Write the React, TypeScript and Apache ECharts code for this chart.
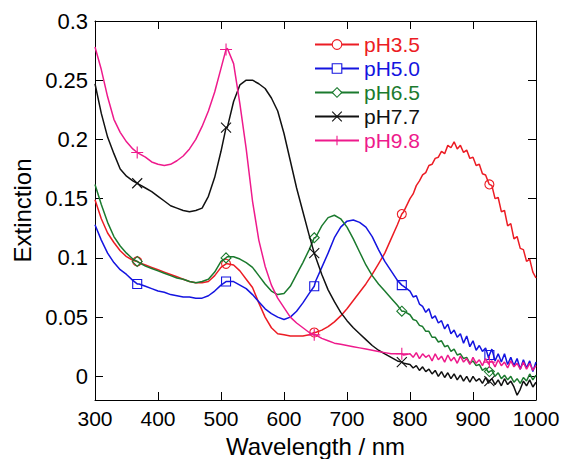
import React, { useEffect, useRef } from "react";
import * as echarts from "echarts";

// wavelength grids (nm)
const lambdaCoarse: number[] = [];
for (let l = 300; l <= 790; l += 10) lambdaCoarse.push(l);
const lambdaFine: number[] = [];
for (let l = 800; l <= 1000; l += 5) lambdaFine.push(l);
const wavelengths = [...lambdaCoarse, ...lambdaFine];

const seriesNames = ["pH3.5", "pH5.0", "pH6.5", "pH7.7", "pH9.8"];
const seriesColors = ["#ec1c24", "#1414e0", "#1b7a2e", "#111111", "#ee1a8c"];

const pH35 = [
  0.149, 0.133, 0.121, 0.113, 0.106, 0.101, 0.098, 0.096, 0.094, 0.092,
  0.090, 0.088, 0.086, 0.084, 0.082, 0.080, 0.079, 0.079, 0.080, 0.085,
  0.092, 0.095, 0.094, 0.089, 0.082, 0.075, 0.062, 0.050, 0.041, 0.036,
  0.035, 0.034, 0.034, 0.034, 0.035, 0.037, 0.039, 0.042, 0.046, 0.051,
  0.057, 0.064, 0.071, 0.078, 0.086, 0.095, 0.104, 0.116, 0.128, 0.139,
  0.150, 0.154, 0.161, 0.165, 0.170, 0.172, 0.178, 0.179, 0.184, 0.185,
  0.190, 0.188, 0.195, 0.193, 0.198, 0.192, 0.195, 0.189, 0.191, 0.184,
  0.185, 0.178, 0.179, 0.171, 0.170, 0.163, 0.161, 0.150, 0.151, 0.139,
  0.140, 0.127, 0.129, 0.116, 0.118, 0.108, 0.107, 0.097, 0.099, 0.088,
  0.083,
];
const pH50 = [
  0.128, 0.115, 0.104, 0.096, 0.090, 0.086, 0.081, 0.078, 0.076, 0.074,
  0.072, 0.071, 0.069, 0.068, 0.067, 0.067, 0.066, 0.066, 0.068, 0.072,
  0.077, 0.080, 0.080, 0.077, 0.074, 0.069, 0.063, 0.057, 0.053, 0.050,
  0.048, 0.050, 0.055, 0.062, 0.070, 0.080, 0.092, 0.104, 0.117, 0.126,
  0.131, 0.132, 0.130, 0.126, 0.118, 0.107, 0.097, 0.089, 0.081, 0.076,
  0.072, 0.067, 0.068, 0.061, 0.059, 0.054, 0.057, 0.049, 0.051, 0.045,
  0.047, 0.040, 0.044, 0.036, 0.039, 0.033, 0.036, 0.028, 0.034, 0.025,
  0.030, 0.022, 0.026, 0.021, 0.024, 0.015, 0.023, 0.013, 0.019, 0.012,
  0.019, 0.010, 0.016, 0.009, 0.015, 0.006, 0.014, 0.007, 0.013, 0.004,
  0.012,
];
const pH65 = [
  0.162, 0.145, 0.130, 0.118, 0.110, 0.104, 0.099, 0.096, 0.093, 0.091,
  0.089, 0.087, 0.085, 0.083, 0.082, 0.080, 0.079, 0.080, 0.082, 0.088,
  0.097, 0.101, 0.101, 0.099, 0.096, 0.092, 0.085, 0.078, 0.072, 0.069,
  0.070, 0.076, 0.086, 0.096, 0.107, 0.117, 0.127, 0.134, 0.136, 0.133,
  0.126, 0.116, 0.105, 0.094, 0.085, 0.078, 0.072, 0.066, 0.060, 0.055,
  0.052, 0.048, 0.047, 0.043, 0.042, 0.038, 0.038, 0.033, 0.033, 0.029,
  0.030, 0.025, 0.026, 0.021, 0.023, 0.018, 0.019, 0.015, 0.016, 0.011,
  0.013, 0.009, 0.010, 0.005, 0.007, 0.003, 0.005, 0.000, 0.003, -0.002,
  0.001, -0.003, 0.000, -0.005, -0.002, -0.006, -0.001, -0.004, 0.002, -0.003,
  0.001,
];
const pH77 = [
  0.247, 0.222, 0.202, 0.188, 0.175, 0.169, 0.165, 0.162, 0.159, 0.156,
  0.152, 0.148, 0.144, 0.142, 0.140, 0.139, 0.140, 0.142, 0.152, 0.168,
  0.190, 0.210, 0.232, 0.246, 0.250, 0.250, 0.247, 0.243, 0.235, 0.224,
  0.205, 0.182, 0.159, 0.139, 0.119, 0.101, 0.086, 0.073, 0.063, 0.054,
  0.047, 0.041, 0.036, 0.031, 0.026, 0.022, 0.019, 0.016, 0.013, 0.011,
  0.010, 0.007, 0.009, 0.005, 0.008, 0.004, 0.006, 0.002, 0.005, 0.000,
  0.004, -0.001, 0.003, -0.002, 0.002, -0.003, 0.001, -0.004, 0.000, -0.005,
  0.000, -0.004, -0.002, -0.006, -0.001, -0.006, -0.002, -0.007, -0.003, -0.008,
  -0.002, -0.007, -0.004, -0.009, -0.016, -0.011, -0.004, -0.008, -0.003, -0.009,
  -0.005,
];
const pH98 = [
  0.278, 0.259, 0.236, 0.217, 0.206, 0.198, 0.192, 0.188, 0.185, 0.181,
  0.179, 0.178, 0.179, 0.182, 0.186, 0.192, 0.200, 0.211, 0.224, 0.240,
  0.260, 0.277, 0.264, 0.230, 0.192, 0.148, 0.115, 0.093, 0.077, 0.066,
  0.058, 0.050, 0.045, 0.041, 0.037, 0.035, 0.032, 0.030, 0.028, 0.027,
  0.026, 0.025, 0.024, 0.023, 0.022, 0.021, 0.020, 0.019, 0.019, 0.018,
  0.019, 0.016, 0.020, 0.015, 0.019, 0.016, 0.018, 0.013, 0.019, 0.014,
  0.017, 0.012, 0.018, 0.013, 0.016, 0.011, 0.017, 0.012, 0.015, 0.010,
  0.016, 0.011, 0.014, 0.009, 0.015, 0.010, 0.013, 0.008, 0.014, 0.009,
  0.012, 0.007, 0.013, 0.008, 0.011, 0.006, 0.012, 0.006, 0.011, 0.005,
  0.009,
];
const seriesValues = [pH35, pH50, pH65, pH77, pH98];

// marker positions (nm) and values read at the markers
const markerLambda = [367, 508, 648, 787, 926];
const markerValues = [
  [0.097, 0.095, 0.037, 0.137, 0.162],
  [0.078, 0.080, 0.076, 0.077, 0.018],
  [0.097, 0.100, 0.117, 0.055, 0.004],
  [0.163, 0.210, 0.104, 0.012, -0.004],
  [0.189, 0.276, 0.035, 0.019, 0.012],
];

const symbols = [
  "circle",
  "rect",
  "diamond",
  "path://M0,0L10,10M10,0L0,10",
  "path://M5,0L5,10M0,5L10,5",
];
const symbolSizes = [9, 9, 10, 10, 12];

const xTicks = { min: 300, max: 1000, step: 100 };
const yRange = { min: -0.02, max: 0.3, step: 0.05 };

const FONT = "'Liberation Sans', Arial, Helvetica, sans-serif";

export default function App() {
  const ref = useRef<HTMLDivElement>(null);
  useEffect(() => {
    if (!ref.current) return;
    const chart = echarts.init(ref.current, null, { renderer: "svg" });

    const series = seriesNames.map((name, i) => {
      const pts: any[] = wavelengths.map((l, j) => ({
        value: [l, seriesValues[i][j]],
        symbol: "none",
      }));
      markerLambda.forEach((l, k) => {
        pts.push({ value: [l, markerValues[i][k]] });
      });
      pts.sort((a, b) => a.value[0] - b.value[0]);
      const c = seriesColors[i];
      return {
        name,
        type: "line",
        data: pts,
        symbol: symbols[i],
        symbolSize: symbolSizes[i],
        showSymbol: true,
        showAllSymbol: true,
        silent: true,
        lineStyle: { color: c, width: 1.5 },
        itemStyle: { color: "rgba(255,255,255,0)", borderColor: c, borderWidth: 1.1 },
        z: 2 + i,
      };
    });

    const yLabel = (v: number) => (v < -0.001 ? "" : String(+v.toFixed(2)));
    const xLabel = (v: number) => String(Math.round(v));

    const commonX = {
      type: "value",
      min: xTicks.min,
      max: xTicks.max,
      interval: xTicks.step,
      splitLine: { show: false },
      axisLine: { show: true, onZero: false, lineStyle: { color: "#000", width: 1 } },
      axisTick: { show: true, inside: true, length: 8, lineStyle: { color: "#000" } },
    };
    const commonY = {
      type: "value",
      min: yRange.min,
      max: yRange.max,
      splitNumber: 6,
      minInterval: yRange.step,
      maxInterval: yRange.step,
      splitLine: { show: false },
      axisLine: { show: true, onZero: false, lineStyle: { color: "#000", width: 1 } },
      axisTick: { show: true, inside: true, length: 8, lineStyle: { color: "#000" } },
    };

    chart.setOption({
      animation: false,
      backgroundColor: "#fff",
      grid: {
        left: 95,
        right: 25,
        top: 21,
        bottom: 59,
        containLabel: false,
        outerBoundsMode: "none",
      },
      legend: {
        orient: "vertical",
        left: 309,
        top: 29,
        padding: 5,
        itemWidth: 44,
        itemHeight: 12,
        itemGap: 3,
        selectedMode: false,
        textStyle: { fontSize: 21, fontFamily: FONT },
        data: seriesNames.map((n, i) => ({
          name: n,
          itemStyle: { color: "#fff", borderColor: seriesColors[i], borderWidth: 1.1 },
          textStyle: { color: seriesColors[i], fontSize: 21, fontFamily: FONT },
        })),
      },
      xAxis: [
        {
          ...commonX,
          position: "bottom",
          name: "Wavelength / nm",
          nameLocation: "middle",
          nameGap: 34,
          nameTextStyle: { fontSize: 24, color: "#000", fontFamily: FONT },
          axisLabel: {
            fontSize: 21,
            color: "#000",
            margin: 8,
            fontFamily: FONT,
            formatter: xLabel,
          },
        },
        {
          ...commonX,
          position: "top",
          axisLabel: { show: false },
        },
      ],
      yAxis: [
        {
          ...commonY,
          position: "left",
          name: "Extinction",
          nameLocation: "middle",
          nameGap: 60,
          nameTextStyle: { fontSize: 24, color: "#000", fontFamily: FONT },
          axisLabel: {
            fontSize: 22,
            color: "#000",
            margin: 7,
            fontFamily: FONT,
            formatter: yLabel,
          },
        },
        {
          ...commonY,
          position: "right",
          axisLabel: { show: false },
        },
      ],
      series,
    });
    return () => chart.dispose();
  }, []);
  return (
    <div
      ref={ref}
      style={{ position: "absolute", left: 0, top: 0, width: 561, height: 459 }}
    />
  );
}
